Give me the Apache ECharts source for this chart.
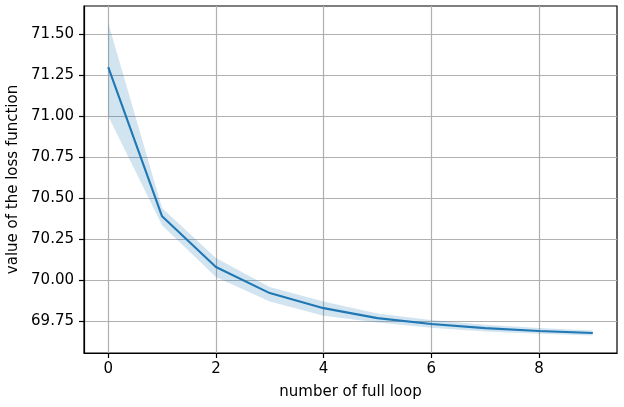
<!DOCTYPE html>
<html><head><meta charset="utf-8">
<script src="https://cdn.jsdelivr.net/npm/echarts@6/dist/echarts.min.js"></script>
<style>html,body{margin:0;padding:0;background:#fff}#c{width:624px;height:407px}</style>
</head><body><div id="c"></div>
<script>
const loops = [0, 1, 2, 3, 4, 5, 6, 7, 8, 9];
const meanLoss = [71.30, 70.389, 70.079, 69.920, 69.828, 69.767, 69.731, 69.706, 69.688, 69.676];
const lowerLoss = [71.00, 70.335, 70.018, 69.868, 69.782, 69.740, 69.708, 69.686, 69.671, 69.661];
const upperLoss = [71.57, 70.440, 70.134, 69.957, 69.868, 69.795, 69.755, 69.726, 69.706, 69.692];
const xTicks = [0, 2, 4, 6, 8];
const yTicks = [69.75, 70.00, 70.25, 70.50, 70.75, 71.00, 71.25, 71.50];

const font = 'DejaVu Sans';
const chart = echarts.init(document.getElementById('c'), null, {renderer: 'canvas'});
const bandData = loops.map((x, i) => [x, lowerLoss[i], upperLoss[i]]);
chart.setOption({
  animation: false,
  grid: {left: 84, right: 7, top: 6, bottom: 54, show: true, borderColor: '#000', borderWidth: 1.2,
         backgroundColor: 'transparent', containLabel: false, outerBoundsMode: 'none'},
  xAxis: {
    type: 'value', min: -0.45, max: 9.45,
    name: 'number of full loop', nameLocation: 'middle', nameGap: 32,
    nameTextStyle: {fontFamily: font, fontSize: 15, color: '#000'},
    axisLine: {show: true, onZero: false, lineStyle: {color: '#000', width: 1.2}},
    axisTick: {show: true, customValues: xTicks, length: 5, lineStyle: {color: '#000', width: 1.2}},
    axisLabel: {customValues: xTicks, fontFamily: font, fontSize: 15, color: '#000', margin: 9},
    splitLine: {show: true, lineStyle: {color: '#b0b0b0', width: 1.2}}
  },
  yAxis: {
    type: 'value', min: 69.554, max: 71.674,
    name: 'value of the loss function', nameLocation: 'middle', nameGap: 62,
    nameTextStyle: {fontFamily: font, fontSize: 15, color: '#000'},
    axisLine: {show: true, onZero: false, lineStyle: {color: '#000', width: 1.2}},
    axisTick: {show: true, customValues: yTicks, length: 5, lineStyle: {color: '#000', width: 1.2}},
    axisLabel: {customValues: yTicks, fontFamily: font, fontSize: 15, color: '#000', margin: 10,
      formatter: v => v.toFixed(2)},
    splitLine: {show: true, lineStyle: {color: '#b0b0b0', width: 1.2}}
  },
  series: [
    {type: 'custom', data: bandData, silent: true, z: 3,
     encode: {x: 0, y: [1, 2]},
     renderItem: function (params, api) {
       if (params.dataIndex !== 0) return;
       const top = bandData.map(d => api.coord([d[0], d[2]]));
       const bot = bandData.map(d => api.coord([d[0], d[1]])).reverse();
       return {type: 'polygon', shape: {points: top.concat(bot)},
               style: {fill: 'rgba(31,119,180,0.2)'}};
     }},
    {type: 'line', data: loops.map((x, i) => [x, meanLoss[i]]), symbol: 'none',
     lineStyle: {color: '#1f77b4', width: 2.1}, z: 5}
  ]
});
</script></body></html>
